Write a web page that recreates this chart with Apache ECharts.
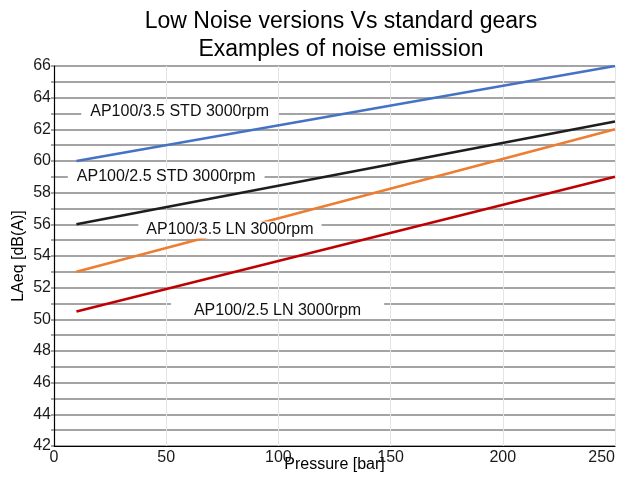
<!DOCTYPE html>
<html>
<head>
<meta charset="utf-8">
<script src="https://cdn.jsdelivr.net/npm/echarts@6/dist/echarts.min.js"></script>
<style>
  html, body { margin: 0; padding: 0; background: #fff; }
  #chart { width: 624px; height: 481px; }
</style>
</head>
<body>
<div id="chart"></div>
<script>
// Pressure points (bar) at which each noise curve is given
const pressure = [10, 250];

// LAeq values in dB(A) for each pump version
const std35 = [60, 66];
const std25 = [56, 62.5];
const ln35 = [53, 62];
const ln25 = [50.5, 59];

const seriesNames = ['AP100/3.5 STD 3000rpm', 'AP100/2.5 STD 3000rpm', 'AP100/3.5 LN 3000rpm', 'AP100/2.5 LN 3000rpm'];
const seriesValues = [std35, std25, ln35, ln25];
const seriesColors = ['#4472C4', '#1e1e1e', '#ED7D31', '#C00000'];

// Axis ranges
const yMin = 42, yMax = 66, yStep = 1;
const xMin = 0, xMax = 250, xStep = 50;

const FONT = '"Liberation Sans", Arial, sans-serif';

// Where each callout box sits, in axis units, plus its horizontal padding
const calloutAnchors = [
  { at: [56, 63.13], padX: 9 },
  { at: [50, 59.04], padX: 9 },
  { at: [78.4, 55.64], padX: 8 },
  { at: [99.6, 50.58], padX: 23 }
];

const lineSeries = seriesNames.map((name, i) => ({
  name: name,
  type: 'line',
  z: 3,
  symbol: 'none',
  data: pressure.map((p, k) => [p, seriesValues[i][k]]),
  lineStyle: { color: seriesColors[i], width: 2.5 },
  silent: true
}));

// White-backed text boxes naming each curve, drawn above lines and grid
const calloutSeries = {
  type: 'custom',
  z: 20,
  silent: true,
  data: calloutAnchors.map((c, i) => [c.at[0], c.at[1], i]),
  renderItem: function (params, api) {
    const idx = api.value(2);
    const pt = api.coord([api.value(0), api.value(1)]);
    const c = calloutAnchors[idx];
    return {
      type: 'text',
      x: pt[0],
      y: pt[1],
      style: {
        text: seriesNames[idx],
        font: '16px ' + FONT,
        fill: '#111111',
        align: 'center',
        verticalAlign: 'middle',
        backgroundColor: '#ffffff',
        padding: [0, c.padX, 0, c.padX],
        lineHeight: 17
      }
    };
  }
};

const chart = echarts.init(document.getElementById('chart'), null, { renderer: 'canvas' });
chart.setOption({
  animation: false,
  backgroundColor: '#ffffff',
  title: {
    text: 'Low Noise versions Vs standard gears\nExamples of noise emission',
    left: 336,
    textAlign: 'center',
    top: 3,
    textStyle: { fontFamily: FONT, fontSize: 23, fontWeight: 'normal', color: '#000', lineHeight: 28 }
  },
  grid: { left: 54, right: 9, top: 66, bottom: 35, containLabel: false },
  xAxis: {
    type: 'value',
    min: xMin, max: xMax, interval: xStep,
    name: 'Pressure [bar]',
    nameLocation: 'middle',
    nameGap: 11,
    nameMoveOverlap: false,
    nameTextStyle: { fontFamily: FONT, fontSize: 16, color: '#000' },
    axisLine: { show: true, onZero: false, lineStyle: { color: '#000', width: 1.2 } },
    axisTick: { show: false },
    axisLabel: { fontFamily: FONT, fontSize: 16, color: '#1a1a1a', margin: 4, alignMaxLabel: 'right' },
    splitLine: { show: true, lineStyle: { color: '#e4e4e4', width: 1 } }
  },
  yAxis: {
    type: 'value',
    min: yMin, max: yMax, interval: yStep,
    name: 'LAeq [dB(A)]',
    nameLocation: 'middle',
    nameGap: 27,
    nameMoveOverlap: false,
    nameTextStyle: { fontFamily: FONT, fontSize: 16, color: '#000' },
    axisLine: { show: true, onZero: false, lineStyle: { color: '#000', width: 1.2 } },
    axisTick: { show: true, length: 3, lineStyle: { color: '#888', width: 1.5 } },
    axisLabel: {
      fontFamily: FONT, fontSize: 16, color: '#1a1a1a', margin: 3,
      formatter: v => (v % 2 === 0 ? String(v) : '')
    },
    splitLine: { show: true, lineStyle: { color: '#868686', width: 1.5 } }
  },
  series: lineSeries.concat([calloutSeries])
});
</script>
</body>
</html>
